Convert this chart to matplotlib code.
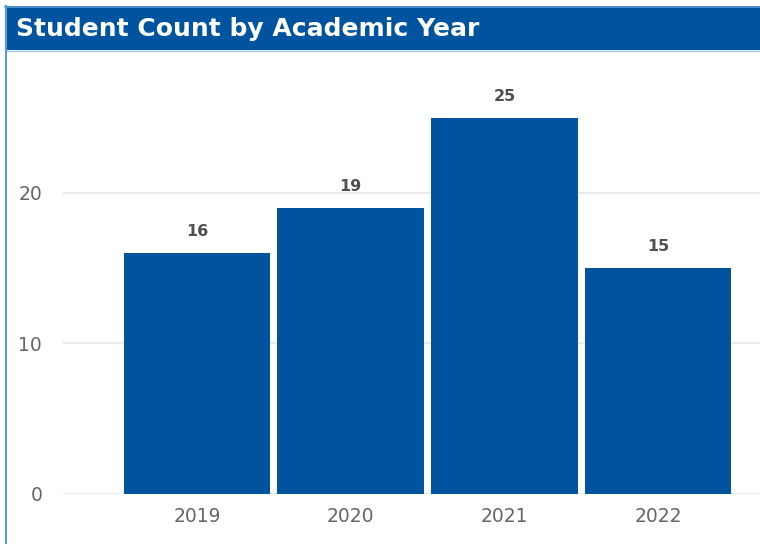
import matplotlib
matplotlib.use("Agg")
import matplotlib.pyplot as plt
from matplotlib.patches import Rectangle
from matplotlib.lines import Line2D

years = ["2019", "2020", "2021", "2022"]
counts = [16, 19, 25, 15]
yticks = [0, 10, 20]
title = "Student Count by Academic Year"

BAR = "#00539F"
EDGE = "#5B9BD5"

W, H = 760, 544
fig = plt.figure(figsize=(W / 100, H / 100), dpi=100)
fig.patch.set_facecolor("white")

def fx(px):
    return px / W

def fy(py):
    return 1 - py / H

# title bar
fig.patches.append(Rectangle((fx(5), fy(50)), fx(760) - fx(5), fy(6) - fy(50),
                             transform=fig.transFigure, facecolor=BAR,
                             edgecolor="none", zorder=0))
fig.lines.append(Line2D([fx(5), 1], [fy(6.5), fy(6.5)], transform=fig.transFigure,
                        color=EDGE, lw=1.2))
fig.lines.append(Line2D([fx(5), 1], [fy(50.5), fy(50.5)], transform=fig.transFigure,
                        color="#9CC3E6", lw=1.0))
fig.lines.append(Line2D([fx(5.5), fx(5.5)], [0, fy(6)], transform=fig.transFigure,
                        color=EDGE, lw=1.5))
fig.text(fx(16), fy(29), title, color="white", fontsize=18, fontweight="bold",
         va="center", ha="left", family="DejaVu Sans")

# axes
x0, x1 = 63, 760
y_top, y_zero = 60, 493.5
unit_y = (493.5 - 193) / 20.0
ax = fig.add_axes([fx(x0), fy(y_zero), fx(x1) - fx(x0), fy(y_top) - fy(y_zero)])
ax.set_ylim(0, (y_zero - y_top) / unit_y)
c0, step = 197, 153.7
ax.set_xlim((x0 - c0) / step, (x1 - c0) / step)

xs = list(range(len(years)))
bars = ax.bar(xs, counts, width=0.955, color=BAR, zorder=3)
for x, v in zip(xs, counts):
    ax.annotate(str(v), (x, v), xytext=(0, 10), textcoords="offset points",
                ha="center", va="bottom", fontsize=11.5, color="#505050",
                fontweight="semibold")

ax.set_xticks(xs)
ax.set_xticklabels(years)
ax.set_yticks(yticks)
ax.tick_params(axis="both", length=0, labelsize=13.5, labelcolor="#666666")
ax.tick_params(axis="x", pad=10)
ax.tick_params(axis="y", pad=15)
ax.grid(axis="y", color="#E6E6E6", lw=1.2, zorder=0)
for s in ax.spines.values():
    s.set_visible(False)

fig.savefig("out.png", dpi=100)
